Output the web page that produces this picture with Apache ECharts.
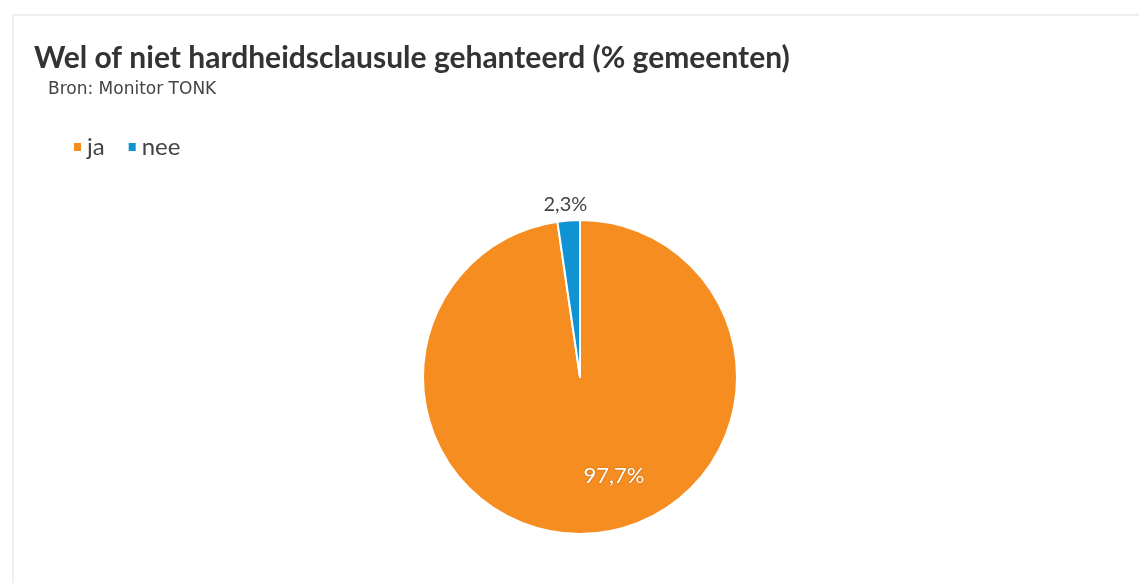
<!DOCTYPE html>
<html lang="nl">
<head>
    <meta charset="UTF-8">
    <title>Hardheidsclausule</title>
    <style>
        html, body { margin: 0; padding: 0; background: #fff; }
        #frame { position: absolute; left: 12px; top: 14px; width: 1200px; height: 600px;
                 border-top: 2px solid #eeeeee; border-left: 2px solid #eeeeee; }
        #main { position: absolute; left: 0; top: 0; width: 1139px; height: 583px; }
    </style>
</head>
<body>
<div id="frame"></div>
<div id="main"></div>
<script src="https://cdn.jsdelivr.net/npm/echarts@6/dist/echarts.min.js"></script>
<script type="text/javascript">
    // data
    var categories = ['ja', 'nee'];
    var values = [97.7, 2.3];
    var colors = ['#f68d21', '#0f93d2'];

    var myChart = echarts.init(document.getElementById('main'));

    var pieData = [];
    for (var i = 0; i < categories.length; i++) {
        pieData.push({
            name: categories[i],
            value: values[i],
            itemStyle: { color: colors[i] },
            label: i === 0 ? {
                position: 'inside',
                color: '#fff',
                fontSize: 22,
                textShadowColor: 'rgba(0,0,0,0.3)',
                textShadowBlur: 2
            } : {
                position: 'outside',
                color: '#444',
                fontSize: 20
            }
        });
    }

    myChart.setOption({
        animation: false,
        title: [{
            text: 'Wel of niet hardheidsclausule gehanteerd (% gemeenten)',
            left: 29,
            top: 38,
            textStyle: { fontFamily: 'Lato', fontSize: 30, fontWeight: 'bold', color: '#333' }
        }, {
            text: 'Bron: Monitor TONK',
            left: 43,
            top: 76,
            textStyle: { fontFamily: 'DejaVu Sans', fontSize: 17, fontWeight: 'normal', color: '#444' }
        }],
        legend: {
            data: categories,
            left: 67,
            top: 130,
            icon: 'rect',
            itemWidth: 9,
            itemHeight: 10,
            itemGap: 22,
            textStyle: { fontFamily: 'Lato', fontSize: 24, color: '#444' }
        },
        series: [{
            type: 'pie',
            center: [580, 377],
            radius: 157,
            startAngle: 90,
            clockwise: true,
            itemStyle: { borderColor: '#fff', borderWidth: 2 },
            label: {
                show: true,
                fontFamily: 'Lato',
                formatter: function (p) {
                    return String(p.value).replace('.', ',') + '%';
                }
            },
            labelLine: { show: false, length: 4, length2: 0 },
            labelLayout: function (p) {
                if (p.dataIndex === 0) {
                    return { dx: 28, dy: 18 };
                }
                return { align: 'center', dx: 2, dy: -12 };
            },
            data: pieData
        }]
    });
    window.addEventListener('resize', function () {
        myChart.resize();
    });
</script>
</body>
</html>
